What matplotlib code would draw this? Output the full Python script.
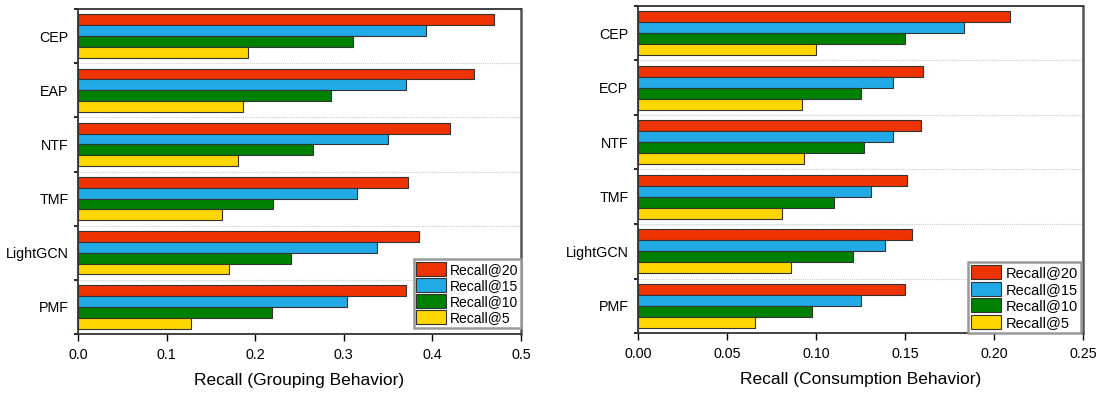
import matplotlib
matplotlib.use("Agg")
import matplotlib.pyplot as plt
import numpy as np

plt.rcParams['font.family'] = ['Liberation Sans', 'DejaVu Sans']

# ---- data ----
cats_left = ["CEP", "EAP", "NTF", "TMF", "LightGCN", "PMF"]
cats_right = ["CEP", "ECP", "NTF", "TMF", "LightGCN", "PMF"]
series_names = ["Recall@20", "Recall@15", "Recall@10", "Recall@5"]

left_r20 = [0.469, 0.447, 0.420, 0.372, 0.385, 0.370]
left_r15 = [0.393, 0.370, 0.350, 0.315, 0.338, 0.304]
left_r10 = [0.310, 0.285, 0.265, 0.220, 0.240, 0.219]
left_r5 = [0.192, 0.186, 0.181, 0.163, 0.170, 0.128]

right_r20 = [0.209, 0.160, 0.159, 0.151, 0.154, 0.150]
right_r15 = [0.183, 0.143, 0.143, 0.131, 0.139, 0.125]
right_r10 = [0.150, 0.125, 0.127, 0.110, 0.121, 0.098]
right_r5 = [0.100, 0.092, 0.093, 0.081, 0.086, 0.066]

colors = ["#EE3300", "#22AAE6", "#008000", "#FFD700"]

fig = plt.figure(figsize=(10.99, 3.93), dpi=100)
ax1 = fig.add_axes([78/1099, 1-334/393, 443/1099, 325/393])
ax2 = fig.add_axes([638/1099, 1-333/393, 445/1099, 327/393])


def draw(ax, cats, data, xmax, xticks, xticklabels, xlabel, legend_fs, legend_box):
    n = len(cats)
    ypos = np.arange(n)[::-1]
    h = 0.2
    offsets = [0.3, 0.1, -0.1, -0.3]
    for vals, off, col, name in zip(data, offsets, colors, series_names):
        ax.barh(ypos + off, vals, height=h, color=col, edgecolor="#333333",
                linewidth=0.8, label=name, zorder=3)
    ax.set_xlim(0, xmax)
    ax.set_ylim(-0.5, n - 0.5)
    ax.set_yticks(ypos)
    ax.set_yticklabels(cats, fontsize=10.3)
    ax.tick_params(axis='y', which='major', length=0, pad=7)
    bounds = np.arange(n + 1) - 0.5
    ax.set_yticks(bounds, minor=True)
    ax.tick_params(axis='y', which='minor', length=3, width=1.2, direction='out')
    for b in bounds[1:-1]:
        ax.axhline(b, color="#cccccc", linestyle=(0, (1, 1)), linewidth=0.8, zorder=1)
    ax.set_xticks(xticks)
    ax.set_xticklabels(xticklabels, fontsize=10.3)
    ax.tick_params(axis='x', length=5, width=1.0, direction='out', pad=5)
    ax.set_xlabel(xlabel, fontsize=12.5, labelpad=8)
    for s in ax.spines.values():
        s.set_linewidth(1.3)
        s.set_color("#333333")
    ax.spines['right'].set_color("#555555")
    ax.spines['right'].set_linewidth(1.8)
    leg = ax.legend(loc='lower right', bbox_to_anchor=legend_box, fontsize=legend_fs,
                    frameon=True, fancybox=False, handlelength=2.1, handleheight=1.1,
                    labelspacing=0.12, handletextpad=0.3, borderpad=0.2,
                    borderaxespad=0.0)
    leg.get_frame().set_edgecolor("#999999")
    leg.get_frame().set_linewidth(1.8)
    leg.get_frame().set_alpha(1)


draw(ax1, cats_left, [left_r20, left_r15, left_r10, left_r5], 0.5,
     [0.0, 0.1, 0.2, 0.3, 0.4, 0.5], ["0.0", "0.1", "0.2", "0.3", "0.4", "0.5"],
     "Recall (Grouping Behavior)", 10, (1.0, 0.02))
draw(ax2, cats_right, [right_r20, right_r15, right_r10, right_r5], 0.25,
     [0.0, 0.05, 0.10, 0.15, 0.20, 0.25], ["0.00", "0.05", "0.10", "0.15", "0.20", "0.25"],
     "Recall (Consumption Behavior)", 10.5, (0.995, 0.0))

fig.savefig("out.png", dpi=100)
